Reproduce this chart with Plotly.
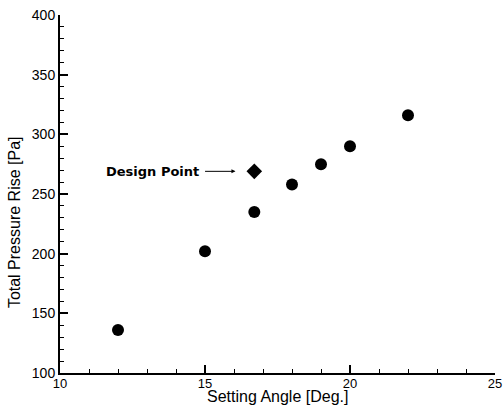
import plotly.graph_objects as go

angles = [12, 15, 16.7, 18, 19, 20, 22]
pressure = [136, 202, 235, 258, 275, 290, 316]
design_angle = [16.7]
design_pressure = [269]

font_family = "Liberation Sans, Arial, sans-serif"

fig = go.Figure()
fig.add_trace(go.Scatter(x=angles, y=pressure, mode="markers",
                         marker=dict(symbol="circle", size=12, color="black"),
                         showlegend=False))
fig.add_trace(go.Scatter(x=design_angle, y=design_pressure, mode="markers",
                         marker=dict(symbol="diamond", size=12, color="black"),
                         showlegend=False))

fig.add_annotation(x=14.85, y=269, text="<b>Design Point</b>", showarrow=False,
                   xanchor="right", yanchor="middle",
                   font=dict(family="DejaVu Sans, sans-serif", size=13, color="black"))
fig.add_annotation(x=16.05, y=269, ax=14.95, ay=269, axref="x", ayref="y",
                   xref="x", yref="y", text="", showarrow=True,
                   arrowhead=2, arrowsize=0.8, arrowwidth=1, arrowcolor="black")

# axis titles as annotations
fig.add_annotation(x=0.499, y=-0.0925, xref="paper", yref="paper",
                   text="Setting Angle [Deg.]", showarrow=False,
                   xanchor="center", yanchor="bottom", borderpad=0,
                   font=dict(family=font_family, size=16, color="black"))
fig.add_annotation(x=-0.103, y=0.422, xref="paper", yref="paper",
                   text="Total Pressure Rise [Pa]", showarrow=False, textangle=-90,
                   xanchor="center", yanchor="middle",
                   font=dict(family=font_family, size=16, color="black"))

fig.update_layout(
    width=503, height=406,
    margin=dict(l=60, r=8, t=15, b=33),
    plot_bgcolor="white", paper_bgcolor="white",
    font=dict(family=font_family, size=14, color="black"),
    xaxis=dict(range=[10, 25], dtick=5, tick0=10, showline=True, linecolor="black",
               linewidth=2, ticks="inside", ticklen=8, tickwidth=2, tickcolor="black",
               showgrid=False, zeroline=False, automargin=False, ticklabelstandoff=-3,
               minor=dict(dtick=1, ticks="inside", ticklen=4, tickcolor="black", tickwidth=1, showgrid=False),
               tickfont=dict(size=13)),
    yaxis=dict(range=[100, 400], dtick=50, tick0=100, showline=True, linecolor="black",
               linewidth=2, ticks="inside", ticklen=8, tickwidth=2, tickcolor="black",
               showgrid=False, zeroline=False, automargin=False,
               minor=dict(dtick=10, ticks="inside", ticklen=4, tickcolor="black", tickwidth=1, showgrid=False),
               tickfont=dict(size=14)),
)

fig.write_html("out.html")
